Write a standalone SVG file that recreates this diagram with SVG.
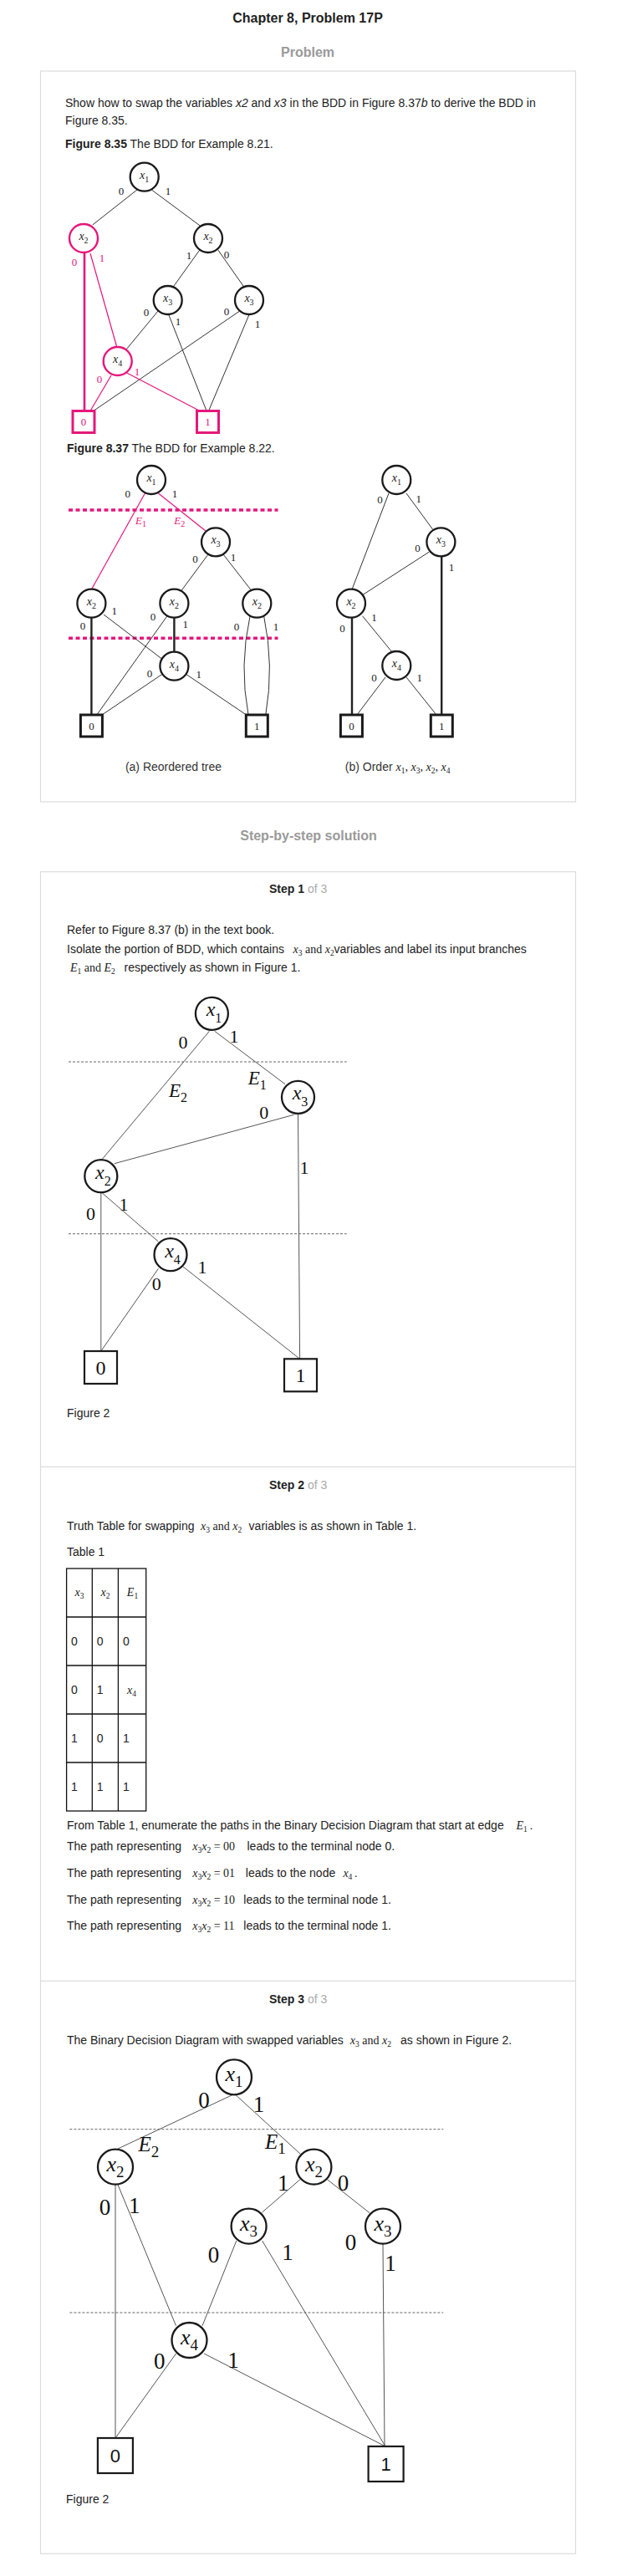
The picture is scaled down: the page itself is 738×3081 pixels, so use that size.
<svg xmlns="http://www.w3.org/2000/svg" width="738" height="3081" viewBox="0 0 738 3081">
<style>
.bg{fill:#fff}
.box{fill:none;stroke:#dcdcdc;stroke-width:1.2}
.t{font-family:"Liberation Sans",Arial,sans-serif;font-size:14px;fill:#222}
.b{font-weight:bold}
.it{font-style:italic}
.title{font-family:"Liberation Sans",Arial,sans-serif;font-size:16px;font-weight:bold;fill:#222;text-anchor:middle}
.gh{font-family:"Liberation Sans",Arial,sans-serif;font-size:16px;font-weight:bold;fill:#9a9a9a;text-anchor:middle}
.of{fill:#aaa;font-weight:normal}
.m{font-family:"Liberation Serif","Times New Roman",serif;font-size:14px;fill:#222}
.i{font-style:italic}
.sb{font-size:9.5px}
.c{fill:#fff;stroke:#1a1a1a;stroke-width:2.3}
.cp{fill:#fff;stroke:#e5177b;stroke-width:2.4}
.sq{fill:#fff;stroke:#1a1a1a;stroke-width:3}
.sqp{fill:#fff;stroke:#e5177b;stroke-width:3}
.sq2{fill:#fff;stroke:#1a1a1a;stroke-width:2.2}
.e{stroke:#333;stroke-width:1;fill:none}
.ek{stroke:#222;stroke-width:2.4;fill:none}
.ep{stroke:#e5177b;stroke-width:1.2;fill:none}
.epk{stroke:#e5177b;stroke-width:2.6;fill:none}
.pd{stroke:#e5177b;stroke-width:3.5;stroke-dasharray:5 3.5;fill:none}
.gd{stroke:#666;stroke-width:1;stroke-dasharray:3 2;fill:none}
.ge{stroke:#555;stroke-width:1;fill:none}
.l1{font-family:"Liberation Serif","Times New Roman",serif;font-size:13px;fill:#222;text-anchor:middle}
.lp{fill:#e5177b}
.n1{font-family:"Liberation Serif","Times New Roman",serif;font-size:14px;font-style:italic;fill:#222;text-anchor:middle}
.s1{font-size:10px;font-style:normal}
.e1{font-family:"Liberation Serif","Times New Roman",serif;font-size:13px;font-style:italic;fill:#e5177b}
.l2{font-family:"Liberation Serif","Times New Roman",serif;font-size:22px;fill:#111;text-anchor:middle}
.n2{font-family:"Liberation Serif","Times New Roman",serif;font-size:24px;font-style:italic;fill:#111;text-anchor:middle}
.s2{font-size:16px;font-style:normal}
.E2{font-family:"Liberation Serif","Times New Roman",serif;font-size:23px;font-style:italic;fill:#111}
.t2{font-family:"Liberation Serif","Times New Roman",serif;font-size:24px;fill:#111;text-anchor:middle}
.l3{font-family:"Liberation Serif","Times New Roman",serif;font-size:27px;fill:#111;text-anchor:middle}
.n3{font-family:"Liberation Serif","Times New Roman",serif;font-size:26px;font-style:italic;fill:#111;text-anchor:middle}
.s3{font-size:19px;font-style:normal}
.E3{font-family:"Liberation Serif","Times New Roman",serif;font-size:25px;font-style:italic;fill:#111}
.tn{font-family:"Liberation Sans",Arial,sans-serif;font-size:22px;fill:#111;text-anchor:middle}
.tb{fill:none;stroke:#111;stroke-width:1.3}
.cap{font-family:"Liberation Sans",Arial,sans-serif;font-size:14px;fill:#333;text-anchor:middle}
</style>
<rect class="bg" x="0" y="0" width="738" height="3081"/>

<!-- headings and boxes -->
<text class="title" x="368" y="27">Chapter 8, Problem 17P</text>
<text class="gh" x="368" y="68">Problem</text>
<rect class="box" x="48.5" y="85" width="640" height="874"/>
<text class="gh" x="369" y="1005">Step-by-step solution</text>
<rect class="box" x="48.5" y="1042.7" width="640" height="2011.6"/>
<line class="box" x1="48.5" y1="1754.3" x2="688.5" y2="1754.3"/>
<line class="box" x1="48.5" y1="2369.3" x2="688.5" y2="2369.3"/>

<!-- problem texts -->
<text class="t" x="78" y="128">Show how to swap the variables <tspan class="it">x2</tspan> and <tspan class="it">x3</tspan> in the BDD in Figure 8.37<tspan class="it">b</tspan> to derive the BDD in</text>
<text class="t" x="78" y="149">Figure 8.35.</text>
<text class="t" x="78" y="177"><tspan class="b">Figure 8.35</tspan> The BDD for Example 8.21.</text>
<text class="t" x="80" y="541"><tspan class="b">Figure 8.37</tspan> The BDD for Example 8.22.</text>
<text class="cap" x="207.5" y="921.7">(a) Reordered tree</text>
<text class="cap" x="475.6" y="921.7">(b) Order <tspan class="m i">x</tspan><tspan class="m sb" dy="3">1</tspan><tspan class="m" dy="-3">, </tspan><tspan class="m i">x</tspan><tspan class="m sb" dy="3">3</tspan><tspan class="m" dy="-3">, </tspan><tspan class="m i">x</tspan><tspan class="m sb" dy="3">2</tspan><tspan class="m" dy="-3">, </tspan><tspan class="m i">x</tspan><tspan class="m sb" dy="3">4</tspan></text>

<!-- step 1 texts -->
<text class="t" x="322" y="1068.3"><tspan class="b">Step 1</tspan><tspan class="of"> of 3</tspan></text>
<text class="t" x="80" y="1116.7">Refer to Figure 8.37 (b) in the text book.</text>
<text class="t" x="80" y="1140">Isolate the portion of BDD, which contains</text>
<text class="m" x="350.6" y="1140"><tspan class="i">x</tspan><tspan class="sb" dy="3">3</tspan><tspan dy="-3"> and </tspan><tspan class="i">x</tspan><tspan class="sb" dy="3">2</tspan></text>
<text class="t" x="399.5" y="1140">variables and label its input branches</text>
<text class="m" x="84" y="1161.7"><tspan class="i">E</tspan><tspan class="sb" dy="3">1</tspan><tspan dy="-3"> and </tspan><tspan class="i">E</tspan><tspan class="sb" dy="3">2</tspan></text>
<text class="t" x="148.6" y="1161.7">respectively as shown in Figure 1.</text>
<text class="t" x="80" y="1695">Figure 2</text>

<!-- step 2 texts -->
<text class="t" x="322" y="1780.7"><tspan class="b">Step 2</tspan><tspan class="of"> of 3</tspan></text>
<text class="t" x="80" y="1830">Truth Table for swapping</text>
<text class="m" x="240" y="1830"><tspan class="i">x</tspan><tspan class="sb" dy="3">3</tspan><tspan dy="-3"> and </tspan><tspan class="i">x</tspan><tspan class="sb" dy="3">2</tspan></text>
<text class="t" x="297.6" y="1830">variables is as shown in Table 1.</text>
<text class="t" x="80" y="1860.7">Table 1</text>

<g id="table1">
<rect class="tb" x="79.6" y="1876" width="95.1" height="290"/>
<line class="tb" x1="110.3" y1="1876" x2="110.3" y2="2166"/>
<line class="tb" x1="141.4" y1="1876" x2="141.4" y2="2166"/>
<line class="tb" x1="79.6" y1="1934" x2="174.7" y2="1934"/>
<line class="tb" x1="79.6" y1="1992" x2="174.7" y2="1992"/>
<line class="tb" x1="79.6" y1="2050" x2="174.7" y2="2050"/>
<line class="tb" x1="79.6" y1="2108" x2="174.7" y2="2108"/>
<text class="m" x="95" y="1909" text-anchor="middle"><tspan class="i">x</tspan><tspan class="sb" dy="3">3</tspan></text>
<text class="m" x="126" y="1909" text-anchor="middle"><tspan class="i">x</tspan><tspan class="sb" dy="3">2</tspan></text>
<text class="m" x="158.5" y="1909" text-anchor="middle"><tspan class="i">E</tspan><tspan class="sb" dy="3">1</tspan></text>
<text class="t" x="85" y="1968">0</text><text class="t" x="115.8" y="1968">0</text><text class="t" x="147" y="1968">0</text>
<text class="t" x="85" y="2026">0</text><text class="t" x="115.8" y="2026">1</text>
<text class="m" x="152" y="2026"><tspan class="i">x</tspan><tspan class="sb" dy="3">4</tspan></text>
<text class="t" x="85" y="2084">1</text><text class="t" x="115.8" y="2084">0</text><text class="t" x="147" y="2084">1</text>
<text class="t" x="85" y="2142">1</text><text class="t" x="115.8" y="2142">1</text><text class="t" x="147" y="2142">1</text>
</g>

<text class="t" x="80" y="2188.3">From Table 1, enumerate the paths in the Binary Decision Diagram that start at edge</text>
<text class="m" x="617.4" y="2188.3"><tspan class="i">E</tspan><tspan class="sb" dy="3">1</tspan></text>
<text class="t" x="633.4" y="2188.3">.</text>

<text class="t" x="80" y="2213.3">The path representing</text>
<text class="m" x="230.2" y="2213.3"><tspan class="i">x</tspan><tspan class="sb" dy="3">3</tspan><tspan class="i" dy="-3">x</tspan><tspan class="sb" dy="3">2</tspan><tspan dy="-3"> = 00</tspan></text>
<text class="t" x="295.5" y="2213.3">leads to the terminal node 0.</text>

<text class="t" x="80" y="2245">The path representing</text>
<text class="m" x="230.2" y="2245"><tspan class="i">x</tspan><tspan class="sb" dy="3">3</tspan><tspan class="i" dy="-3">x</tspan><tspan class="sb" dy="3">2</tspan><tspan dy="-3"> = 01</tspan></text>
<text class="t" x="293.8" y="2245">leads to the node</text>
<text class="m" x="410.4" y="2245"><tspan class="i">x</tspan><tspan class="sb" dy="3">4</tspan></text>
<text class="t" x="423.8" y="2245">.</text>

<text class="t" x="80" y="2276.7">The path representing</text>
<text class="m" x="230.2" y="2276.7"><tspan class="i">x</tspan><tspan class="sb" dy="3">3</tspan><tspan class="i" dy="-3">x</tspan><tspan class="sb" dy="3">2</tspan><tspan dy="-3"> = 10</tspan></text>
<text class="t" x="291.3" y="2276.7">leads to the terminal node 1.</text>

<text class="t" x="80" y="2308.3">The path representing</text>
<text class="m" x="230.2" y="2308.3"><tspan class="i">x</tspan><tspan class="sb" dy="3">3</tspan><tspan class="i" dy="-3">x</tspan><tspan class="sb" dy="3">2</tspan><tspan dy="-3"> = 11</tspan></text>
<text class="t" x="291.3" y="2308.3">leads to the terminal node 1.</text>

<!-- step 3 texts -->
<text class="t" x="322" y="2395.7"><tspan class="b">Step 3</tspan><tspan class="of"> of 3</tspan></text>
<text class="t" x="80" y="2445">The Binary Decision Diagram with swapped variables</text>
<text class="m" x="418.8" y="2445"><tspan class="i">x</tspan><tspan class="sb" dy="3">3</tspan><tspan dy="-3"> and </tspan><tspan class="i">x</tspan><tspan class="sb" dy="3">2</tspan></text>
<text class="t" x="479" y="2445">as shown in Figure 2.</text>
<text class="t" x="79" y="2994.3">Figure 2</text>

<!-- ================= CONNECTORS ================= -->
<g id="connectors">
  <g id="conn-fig835">
    <line class="e" x1="164" y1="227" x2="110.7" y2="269"/>
    <line class="e" x1="181.7" y1="227.3" x2="239.3" y2="270"/>
    <line class="epk" x1="101" y1="301" x2="101" y2="492"/>
    <line class="ep" x1="108" y1="303" x2="140" y2="416"/>
    <line class="e" x1="241.7" y1="295" x2="207.3" y2="343"/>
    <line class="e" x1="258" y1="295" x2="291.7" y2="343"/>
    <line class="e" x1="189" y1="372" x2="151" y2="418"/>
    <line class="e" x1="202" y1="377" x2="247.3" y2="492"/>
    <line class="e" x1="286.7" y1="372" x2="111" y2="492"/>
    <line class="e" x1="297.7" y1="377" x2="249.3" y2="492"/>
    <line class="ep" x1="133" y1="449" x2="107.7" y2="492"/>
    <line class="ep" x1="151.7" y1="446" x2="240" y2="492"/>
  </g>
  <g id="conn-fig837a">
    <line class="pd" x1="82" y1="610" x2="332.5" y2="610"/>
    <line class="pd" x1="82" y1="763.3" x2="332.5" y2="763.3"/>
    <line class="ep" x1="173.4" y1="590" x2="109.4" y2="705"/>
    <line class="ep" x1="189.4" y1="590" x2="246" y2="635"/>
    <line class="e" x1="249" y1="663" x2="216.8" y2="706.7"/>
    <line class="e" x1="267" y1="663" x2="301" y2="706.7"/>
    <line class="ek" x1="109.4" y1="738" x2="109.4" y2="855"/>
    <line class="e" x1="124" y1="735" x2="193.6" y2="788"/>
    <line class="e" x1="200" y1="736.7" x2="115.8" y2="855"/>
    <line class="ek" x1="208.4" y1="738" x2="208.4" y2="780"/>
    <line class="e" x1="193.6" y1="806.7" x2="122" y2="855"/>
    <line class="e" x1="223" y1="806.7" x2="294.6" y2="855"/>
    <path class="e" d="M299,737 Q286,796 297,855"/>
    <path class="e" d="M315.7,737 Q328,796 317.8,855"/>
  </g>
  <g id="conn-fig837b">
    <line class="e" x1="465" y1="590" x2="421" y2="705"/>
    <line class="e" x1="486" y1="590" x2="517.7" y2="633.3"/>
    <line class="e" x1="513.5" y1="660" x2="433.5" y2="711.7"/>
    <line class="ek" x1="528.2" y1="665" x2="528.2" y2="855"/>
    <line class="ek" x1="421" y1="738" x2="421" y2="855"/>
    <line class="e" x1="433.5" y1="736.7" x2="469" y2="780"/>
    <line class="e" x1="461" y1="810" x2="427" y2="855"/>
    <line class="e" x1="486" y1="810" x2="522" y2="855"/>
  </g>
  <g id="conn-step1">
    <line class="gd" x1="82" y1="1270" x2="414.6" y2="1270"/>
    <line class="gd" x1="82" y1="1475.7" x2="414.6" y2="1475.7"/>
    <line class="ge" x1="250.4" y1="1233.3" x2="122" y2="1386.7"/>
    <line class="ge" x1="256.7" y1="1233.3" x2="341" y2="1296.7"/>
    <line class="ge" x1="351.5" y1="1333.3" x2="136.8" y2="1391.7"/>
    <line class="ge" x1="356.5" y1="1333" x2="358.6" y2="1625.3"/>
    <line class="ge" x1="120.8" y1="1427" x2="120.8" y2="1616"/>
    <line class="ge" x1="122" y1="1426.7" x2="189.4" y2="1485"/>
    <line class="ge" x1="189.4" y1="1517.3" x2="120.8" y2="1616"/>
    <line class="ge" x1="219" y1="1515" x2="358.6" y2="1625.3"/>
  </g>
  <g id="conn-step3">
    <line class="gd" x1="83.4" y1="2546.7" x2="530.3" y2="2546.7"/>
    <line class="gd" x1="83.4" y1="2766" x2="530.3" y2="2766"/>
    <line class="ge" x1="277.8" y1="2505.7" x2="141" y2="2570"/>
    <line class="ge" x1="282" y1="2505.7" x2="359" y2="2576"/>
    <line class="ge" x1="359" y1="2606.7" x2="313.6" y2="2646"/>
    <line class="ge" x1="391.4" y1="2606.7" x2="442" y2="2646.7"/>
    <line class="ge" x1="138" y1="2612.7" x2="138" y2="2916"/>
    <line class="ge" x1="141" y1="2613" x2="210.5" y2="2781.7"/>
    <line class="ge" x1="282.8" y1="2680" x2="242" y2="2781.7"/>
    <line class="ge" x1="313.6" y1="2680" x2="461" y2="2926"/>
    <line class="ge" x1="458" y1="2684" x2="460" y2="2926"/>
    <line class="ge" x1="210.5" y1="2815" x2="138" y2="2916"/>
    <line class="ge" x1="244" y1="2815" x2="461" y2="2926"/>
  </g>
</g>

<!-- ================= EDGE LABELS ================= -->
<g id="labels-fig835">
  <text class="l1" x="145" y="232.5">0</text><text class="l1" x="201" y="232.5">1</text>
  <text class="l1 lp" x="89" y="317.5">0</text><text class="l1 lp" x="122" y="312.5">1</text>
  <text class="l1" x="226" y="309.5">1</text><text class="l1" x="271" y="308.5">0</text>
  <text class="l1" x="175" y="377.5">0</text><text class="l1" x="213" y="388.5">1</text>
  <text class="l1" x="271" y="376.5">0</text><text class="l1" x="308" y="391.5">1</text>
  <text class="l1 lp" x="119" y="457.5">0</text><text class="l1 lp" x="164" y="448.5">1</text>
</g>
<g id="labels-fig837a">
  <text class="l1" x="152.8" y="595.2">0</text><text class="l1" x="209" y="595.2">1</text>
  <text class="e1" x="162" y="627">E<tspan class="s1" dy="3">1</tspan></text>
  <text class="e1" x="208.3" y="627">E<tspan class="s1" dy="3">2</tspan></text>
  <text class="l1" x="233.6" y="672.5">0</text><text class="l1" x="279" y="671.2">1</text>
  <text class="l1" x="136.8" y="734.5">1</text><text class="l1" x="99" y="752.5">0</text>
  <text class="l1" x="183" y="741.5">0</text><text class="l1" x="221.8" y="751.2">1</text>
  <text class="l1" x="283" y="753.5">0</text><text class="l1" x="330" y="753.5">1</text>
  <text class="l1" x="179" y="809.5">0</text><text class="l1" x="237.8" y="810.5">1</text>
</g>
<g id="labels-fig837b">
  <text class="l1" x="454.6" y="601.5">0</text><text class="l1" x="500.8" y="601.2">1</text>
  <text class="l1" x="499.6" y="660.2">0</text><text class="l1" x="540" y="682.5">1</text>
  <text class="l1" x="447.4" y="742.5">1</text><text class="l1" x="409.5" y="755.5">0</text>
  <text class="l1" x="447.4" y="815.2">0</text><text class="l1" x="501.7" y="815.2">1</text>
</g>
<g id="labels-step1">
  <text class="l2" x="219" y="1254.2">0</text><text class="l2" x="280" y="1246.8">1</text>
  <text class="E2" x="296.7" y="1297.3">E<tspan class="s2" dy="6">1</tspan></text>
  <text class="E2" x="202" y="1312.3">E<tspan class="s2" dy="6">2</tspan></text>
  <text class="l2" x="315.7" y="1337.5">0</text>
  <text class="l2" x="364" y="1404.2">1</text>
  <text class="l2" x="108.6" y="1459.2">0</text><text class="l2" x="148" y="1448.2">1</text>
  <text class="l2" x="242" y="1522.5">1</text>
  <text class="l2" x="187.3" y="1542.5">0</text>
</g>
<g id="labels-step3">
  <text class="l3" x="244" y="2520.7">0</text><text class="l3" x="309.4" y="2525.7">1</text>
  <text class="E3" x="165.4" y="2573.3">E<tspan class="s3" dy="7">2</tspan></text>
  <text class="E3" x="317" y="2570">E<tspan class="s3" dy="6">1</tspan></text>
  <text class="l3" x="338.8" y="2619.7">1</text><text class="l3" x="410.4" y="2619.7">0</text>
  <text class="l3" x="125.4" y="2649">0</text><text class="l3" x="160.8" y="2647">1</text>
  <text class="l3" x="255.5" y="2705.7">0</text><text class="l3" x="343.9" y="2703">1</text>
  <text class="l3" x="419.6" y="2690.7">0</text><text class="l3" x="467" y="2715.7">1</text>
  <text class="l3" x="190.7" y="2833">0</text><text class="l3" x="279" y="2831.7">1</text>
</g>

<!-- ================= NODES: Figure 8.35 ================= -->
<g id="f835-x1"><circle class="c" cx="172.7" cy="211.7" r="17"/><text class="n1" x="172.7" y="213.5">x<tspan class="s1" dy="4">1</tspan></text></g>
<g id="f835-x2a"><circle class="cp" cx="100" cy="285" r="17"/><text class="n1 lp" x="100" y="286.8">x<tspan class="s1" dy="4">2</tspan></text></g>
<g id="f835-x2b"><circle class="c" cx="249" cy="285" r="17"/><text class="n1" x="249" y="286.8">x<tspan class="s1" dy="4">2</tspan></text></g>
<g id="f835-x3a"><circle class="c" cx="200.7" cy="359" r="17"/><text class="n1" x="200.7" y="360.8">x<tspan class="s1" dy="4">3</tspan></text></g>
<g id="f835-x3b"><circle class="c" cx="298" cy="359" r="17"/><text class="n1" x="298" y="360.8">x<tspan class="s1" dy="4">3</tspan></text></g>
<g id="f835-x4"><circle class="cp" cx="140.7" cy="432" r="17"/><text class="n1 lp" x="140.7" y="433.8">x<tspan class="s1" dy="4">4</tspan></text></g>
<g id="f835-t0"><rect class="sqp" x="87" y="491.5" width="26" height="26"/><text class="l1 lp" x="100" y="509">0</text></g>
<g id="f835-t1"><rect class="sqp" x="235.5" y="491.5" width="26" height="26"/><text class="l1 lp" x="248.5" y="509">1</text></g>

<!-- ================= NODES: Figure 8.37a ================= -->
<g id="f837a-x1"><circle class="c" cx="181" cy="574" r="17"/><text class="n1" x="181" y="575.8">x<tspan class="s1" dy="4">1</tspan></text></g>
<g id="f837a-x3"><circle class="c" cx="258" cy="648.3" r="17"/><text class="n1" x="258" y="650.1">x<tspan class="s1" dy="4">3</tspan></text></g>
<g id="f837a-x2a"><circle class="c" cx="109.4" cy="721.7" r="17"/><text class="n1" x="109.4" y="723.5">x<tspan class="s1" dy="4">2</tspan></text></g>
<g id="f837a-x2b"><circle class="c" cx="208.4" cy="721.7" r="17"/><text class="n1" x="208.4" y="723.5">x<tspan class="s1" dy="4">2</tspan></text></g>
<g id="f837a-x2c"><circle class="c" cx="307.3" cy="721.7" r="17"/><text class="n1" x="307.3" y="723.5">x<tspan class="s1" dy="4">2</tspan></text></g>
<g id="f837a-x4"><circle class="c" cx="208.4" cy="796.7" r="17"/><text class="n1" x="208.4" y="798.5">x<tspan class="s1" dy="4">4</tspan></text></g>
<g id="f837a-t0"><rect class="sq" x="96.4" y="855" width="26" height="26"/><text class="l1" x="109.4" y="872.5">0</text></g>
<g id="f837a-t1"><rect class="sq" x="294.3" y="855" width="26" height="26"/><text class="l1" x="307.3" y="872.5">1</text></g>

<!-- ================= NODES: Figure 8.37b ================= -->
<g id="f837b-x1"><circle class="c" cx="474.3" cy="574" r="17"/><text class="n1" x="474.3" y="575.8">x<tspan class="s1" dy="4">1</tspan></text></g>
<g id="f837b-x3"><circle class="c" cx="527.4" cy="648.3" r="17"/><text class="n1" x="527.4" y="650.1">x<tspan class="s1" dy="4">3</tspan></text></g>
<g id="f837b-x2"><circle class="c" cx="420" cy="721.7" r="17"/><text class="n1" x="420" y="723.5">x<tspan class="s1" dy="4">2</tspan></text></g>
<g id="f837b-x4"><circle class="c" cx="474.3" cy="796" r="17"/><text class="n1" x="474.3" y="797.8">x<tspan class="s1" dy="4">4</tspan></text></g>
<g id="f837b-t0"><rect class="sq" x="407.4" y="855" width="26" height="26"/><text class="l1" x="420.4" y="872.5">0</text></g>
<g id="f837b-t1"><rect class="sq" x="515.3" y="855" width="26" height="26"/><text class="l1" x="528.3" y="872.5">1</text></g>

<!-- ================= NODES: Step 1 figure ================= -->
<g id="s1-x1"><circle class="c" cx="253.4" cy="1212.3" r="19.5"/><text class="n2" x="256" y="1215.3">x<tspan class="s2" dy="8">1</tspan></text></g>
<g id="s1-x3"><circle class="c" cx="356.5" cy="1312.3" r="19.5"/><text class="n2" x="359" y="1315.3">x<tspan class="s2" dy="8">3</tspan></text></g>
<g id="s1-x2"><circle class="c" cx="120.8" cy="1406.7" r="19.5"/><text class="n2" x="123.3" y="1409.7">x<tspan class="s2" dy="8">2</tspan></text></g>
<g id="s1-x4"><circle class="c" cx="204" cy="1500.7" r="19.5"/><text class="n2" x="206.5" y="1503.7">x<tspan class="s2" dy="8">4</tspan></text></g>
<g id="s1-t0"><rect class="sq2" x="101" y="1616" width="39" height="39"/><text class="t2" x="120.6" y="1643.5">0</text></g>
<g id="s1-t1"><rect class="sq2" x="340" y="1625.3" width="39" height="39"/><text class="t2" x="359.5" y="1652.8">1</text></g>

<!-- ================= NODES: Step 3 figure ================= -->
<g id="s3-x1"><circle class="c" cx="280" cy="2484.3" r="21"/><text class="n3" x="280" y="2489.3">x<tspan class="s3" dy="7">1</tspan></text></g>
<g id="s3-x2a"><circle class="c" cx="138" cy="2591.7" r="21"/><text class="n3" x="138" y="2596.7">x<tspan class="s3" dy="7">2</tspan></text></g>
<g id="s3-x2b"><circle class="c" cx="375.4" cy="2591.7" r="21"/><text class="n3" x="375.4" y="2596.7">x<tspan class="s3" dy="7">2</tspan></text></g>
<g id="s3-x3a"><circle class="c" cx="297.6" cy="2662.7" r="21"/><text class="n3" x="297.6" y="2667.7">x<tspan class="s3" dy="7">3</tspan></text></g>
<g id="s3-x3b"><circle class="c" cx="458" cy="2662.7" r="21"/><text class="n3" x="458" y="2667.7">x<tspan class="s3" dy="7">3</tspan></text></g>
<g id="s3-x4"><circle class="c" cx="226.5" cy="2799" r="21"/><text class="n3" x="226.5" y="2804">x<tspan class="s3" dy="7">4</tspan></text></g>
<g id="s3-t0"><rect class="sq2" x="116.9" y="2916" width="42" height="42"/><text class="tn" x="137.9" y="2945">0</text></g>
<g id="s3-t1"><rect class="sq2" x="440.6" y="2926" width="42" height="42"/><text class="tn" x="461.6" y="2955">1</text></g>
</svg>
